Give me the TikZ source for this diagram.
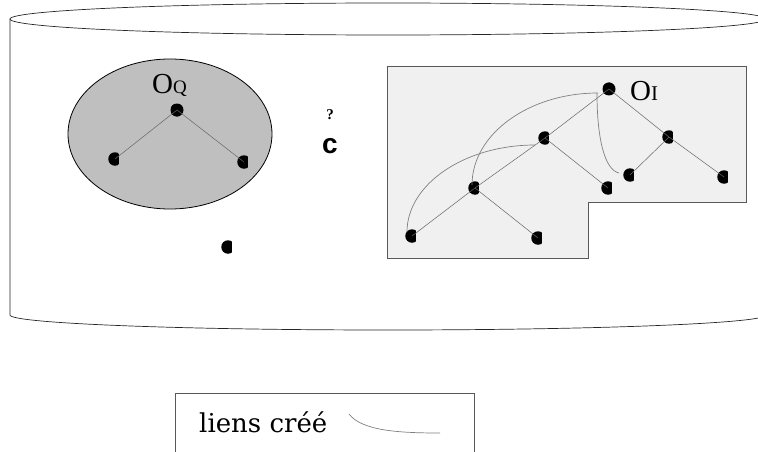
\documentclass[tikz,border=0pt]{standalone}
\usepackage{fontspec}
\setmainfont{Liberation Serif}
\newfontfamily\legendfont{DejaVu Serif}
\newfontfamily\boldsans{Liberation Sans}
\usetikzlibrary{arrows.meta}

\tikzset{
  leaf/.style={circle,inner sep=0pt,minimum size=13.5pt,
    path picture={\fill[black] ([xshift=-3pt]path picture bounding box.north east)
      rectangle (path picture bounding box.south west);}},
  rootdot/.style={circle,fill=black,inner sep=0pt,minimum size=13pt},
  tree/.style={draw=black!60,line width=0.5pt},
  link/.style={draw=black!50,line width=0.7pt}
}

\begin{document}
\begin{tikzpicture}[x=1pt,y=-1pt]
\useasboundingbox (0,0) rectangle (758,452);
\begin{scope}
\clip (0,0) rectangle (758,452);
% base (cylindre)
\draw[black!85,line width=0.7pt] (388,19) ellipse [x radius=378,y radius=16];
\draw[black!85,line width=0.7pt] (10,19) -- (10,315)
   arc [start angle=180,end angle=0,x radius=378,y radius=15];

% objet requete
\draw[black,line width=0.8pt,fill=black!25] (170,134) ellipse [x radius=102,y radius=75];

% objet image
\draw[black!65,line width=0.7pt,fill=black!6] (387,66) -- (746,66) -- (746,202) -- (588,202)
   -- (588,258) -- (387,258) -- cycle;

% legende
\draw[black!65,line width=0.7pt] (175,460) -- (175,393) -- (474,393) -- (474,460);
\end{scope}

\begin{scope}[every node/.style={leaf}]
    \node[rootdot] (q0) at (177,110) {};
    \node (q1) at (115,159) {};
    \node (q2) at (244,162) {};
    \node (lone) at (228,247) {};

    \node[rootdot] (r) at (609,89) {};
    \node (a) at (545,138) {};
    \node (b) at (669,137) {};
    \node (c) at (475,188) {};
    \node (d) at (608,188) {};
    \node (e) at (630,175) {};
    \node (f) at (724,177) {};
    \node (g) at (412,236) {};
    \node (h) at (538,238) {};
\end{scope}

\begin{scope}[every edge/.style={tree}]
    \path [-] (q0.center) edge (q1.center);
    \path [-] (q0.center) edge (q2.center);

    \path [-] (r.center) edge (a.center);
    \path [-] (r.center) edge (b.center);
    \path [-] (a.center) edge (c.center);
    \path [-] (a.center) edge (d.center);
    \path [-] (b.center) edge (e.center);
    \path [-] (b.center) edge (f.center);
    \path [-] (c.center) edge (g.center);
    \path [-] (c.center) edge (h.center);
\end{scope}

% liens crees
\draw[link] ([shift={(-5,-4)}]g.center) .. controls +(0,-48) and +(-70,0) .. ([shift={(-10,7)}]a.center);
\draw[link] ([shift={(-3,-3)}]c.center) .. controls +(0,-51) and +(-69,0) .. ([shift={(-11,4)}]r.center);
\draw[link] ([shift={(-12,4)}]r.center) .. controls +(0,47) and +(-14,-3) .. ([shift={(-11,-2)}]e.center);

% etiquettes
\node[anchor=base west,inner sep=0pt] (oq) at (152,93)
   {\fontsize{29}{29}\selectfont O\fontsize{19}{19}\selectfont Q};
\node[anchor=base west,inner sep=0pt] (oi) at (630,100)
   {\fontsize{29}{29}\selectfont O\fontsize{21}{21}\selectfont I};
\node[inner sep=0pt] (qm) at (330,115) {\fontsize{15}{15}\selectfont\bfseries ?};
\node[inner sep=0pt] (cl) at (330,146) {\boldsans\bfseries\fontsize{28}{28}\selectfont c};

\node[anchor=base west,inner sep=0pt] (leg) at (199,432)
   {\legendfont\fontsize{26}{26}\selectfont liens créé};
\coordinate (ls) at (349,414);
\coordinate (le) at (440,433);
\draw[link] (ls) .. controls (362,431) and (400,433) .. (le);
\end{tikzpicture}
\end{document}
